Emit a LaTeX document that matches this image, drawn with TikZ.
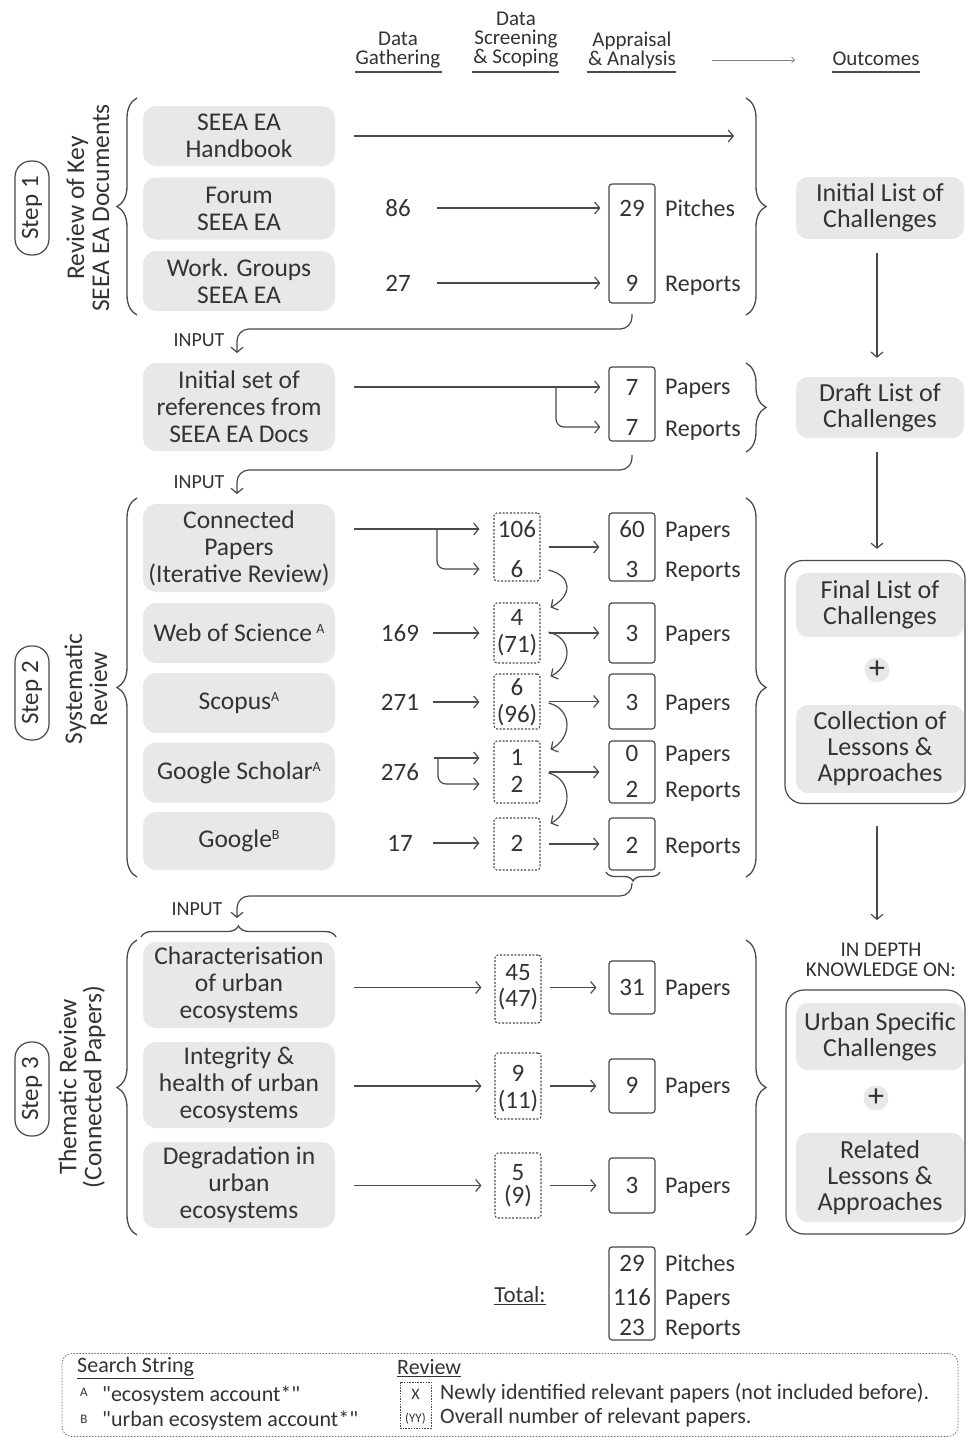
\documentclass[tikz,border=0pt]{standalone}
\usepackage{fontspec}
\setmainfont{Carlito}
\newfontfamily\qf{Carlito}[Ligatures=TeXOff]
\usetikzlibrary{arrows.meta,decorations.pathreplacing,calc}
\definecolor{ink}{HTML}{333333}
\definecolor{linec}{HTML}{4A4A4A}
\definecolor{boxgray}{HTML}{E8E8E8}
\newcommand\sps[1]{\raisebox{8pt}{\fontsize{14}{14}\selectfont #1}}
\begin{document}
\begin{tikzpicture}[x=1pt,y=-1pt,
  every node/.style={text=ink, inner sep=0pt},
  gbox/.style={fill=boxgray, rounded corners=13pt, minimum width=192pt, align=center, font=\fontsize{25.5}{27}\selectfont},
  obox/.style={fill=boxgray, rounded corners=12pt, minimum width=168pt, align=center, font=\fontsize{26}{26}\selectfont},
  sbox/.style={draw=linec, line width=1.2pt, rounded corners=3pt, minimum width=46pt},
  dbox/.style={draw=linec, line width=1.1pt, dash pattern=on 2pt off 1.6pt, rounded corners=3pt, minimum width=46pt},
  num/.style={font=\fontsize{25}{27}\selectfont, text height=16pt, text depth=0pt},
  lbl/.style={font=\fontsize{24}{27}\selectfont, text height=16pt, text depth=0pt, anchor=west},
  hdr/.style={font=\fontsize{21}{19}\selectfont, align=center},
  arr/.style={draw=linec, line width=1.2pt, -{Straight Barb[length=5pt,width=12pt]}},
  ln/.style={draw=linec, line width=1.2pt},
  brc/.style={draw=linec, line width=1.3pt, decorate, decoration={brace, amplitude=#1}},
  brc/.default=20pt,
  stepov/.style={draw=linec, line width=1.2pt, rounded corners=16pt, minimum width=94pt, minimum height=34pt, rotate=90, font=\fontsize{25}{27}\selectfont},
  rlab/.style={rotate=90, align=center, font=\fontsize{25.5}{25}\selectfont},
  plusc/.style={circle, fill=boxgray, minimum size=25pt, font=\fontsize{32}{32}\selectfont},
  outbox/.style={draw=linec, line width=1.2pt, rounded corners=18pt},
  inp/.style={font=\fontsize{20}{20}\selectfont},
  leg/.style={font=\fontsize{22}{24}\selectfont, anchor=west},
]
\fill[white] (0,0) rectangle (966,1438);
\useasboundingbox (0,0) rectangle (966,1438);

% ---------- header ----------
\node[hdr] (hg) at (398,50) {Data\\Gathering};
\node[hdr] (hs) at (516,40) {Data\\Screening\\\& Scoping};
\node[hdr] (ha) at (632,50) {Appraisal\\\& Analysis};
\node[hdr] (ho) at (876,59) {Outcomes};
\draw[ln, line width=1.6pt] (355,72) -- (442,72);
\draw[ln, line width=1.6pt] (472,72) -- (559,72);
\draw[ln, line width=1.6pt] (587,72) -- (676,72);
\draw[ln, line width=1.6pt] (832,72) -- (920,72);
\coordinate (ha1) at (712,60);
\coordinate (ha2) at (795,60);
\draw[draw=linec!70, line width=0.7pt, -{Straight Barb[length=3pt,width=6pt]}] (ha1) -- (ha2);

% ---------- step 1 ----------
\draw[brc] (137,315) -- (137,98);
\node[stepov] (st1) at (32,208) {Step 1};
\node[rlab] (rl1) at (88,208) {Review of Key\\SEEA EA Documents};
\node[gbox, minimum height=60pt] (hb) at (239,136) {SEEA EA\\Handbook};
\node[gbox, minimum height=62pt] (fo) at (239,208.5) {Forum\\SEEA EA};
\node[gbox, minimum height=60pt] (wg) at (239,281) {Work. Groups\\SEEA EA};
\coordinate (hbe) at (734,136);
\draw[arr, shorten <=19pt] (hb.east) -- (hbe);
\node[num, minimum width=78pt] (n86) at (398,208) {86};
\node[num, minimum width=78pt] (n27) at (398,283) {27};
\node[sbox, minimum height=119pt] (s1) at (632,243.5) {};
\node[num] (v29) at (632,208) {29};
\node[num] (v9) at (632,283) {9};
\draw[arr, shorten >=8pt] (n86) -- (s1.west |- n86);
\draw[arr, shorten >=8pt] (n27) -- (s1.west |- n27);
\node[lbl] (lp1) at (665,208) {Pitches};
\node[lbl] (lr1) at (665,283) {Reports};
\draw[brc] (746,98) -- (746,315);
\node[obox, minimum height=62pt] (il) at (880,208) {Initial List of\\Challenges};

% INPUT 1
\coordinate (i1s) at (632,314);
\coordinate (i1m) at (237,329);
\coordinate (i1e) at (237,353);
\draw[arr, rounded corners=12pt] (i1s) |- (i1m) -- (i1e);
\node[inp] (in1) at (199,340) {INPUT};

% ---------- step 1b ----------
\node[gbox, minimum height=88pt] (ir) at (239,407) {Initial set of\\references from\\SEEA EA Docs};
\node[sbox, minimum height=74pt] (s2) at (632,404) {};
\node[num] (v7a) at (632,387) {7};
\node[num] (v7b) at (632,427) {7};
\draw[arr, shorten <=19pt, shorten >=8pt] (ir.east |- v7a) -- (s2.west |- v7a);
\coordinate (b15) at (556,387);
\draw[arr, rounded corners=8pt, shorten >=8pt] (b15) |- (s2.west |- v7b);
\node[lbl] (lp2) at (665,386) {Papers};
\node[lbl] (lr2) at (665,428) {Reports};
\draw[brc] (746,363) -- (746,452);
\node[obox, minimum height=61pt] (dl) at (880,407.5) {Draft List of\\Challenges};
\draw[arr, shorten <=14pt, shorten >=19pt] ([xshift=-3pt]il.south) -- ([xshift=-3pt]dl.north);

% INPUT 2
\coordinate (i2s) at (632,455);
\coordinate (i2m) at (237,470);
\coordinate (i2e) at (237,494);
\draw[arr, rounded corners=12pt] (i2s) |- (i2m) -- (i2e);
\node[inp] (in2) at (199,482) {INPUT};

% ---------- step 2 ----------
\draw[brc] (137,877) -- (137,498);
\node[stepov] (st2) at (32,693) {Step 2};
\node[rlab] (rl2) at (86,689) {Systematic\\Review};
\node[gbox, minimum height=88pt] (cp) at (239,548) {Connected\\Papers\\(Iterative Review)};
\node[gbox, minimum height=60pt] (ws) at (239,633) {Web of Science\,\sps{A}};
\node[gbox, minimum height=60pt] (sc) at (239,703) {Scopus\sps{A}};
\node[gbox, minimum height=60pt] (gs) at (239,772.5) {Google Scholar\sps{A}};
\node[gbox, minimum height=58pt] (go) at (239,841) {Google\sps{B}};

\node[num, minimum width=66pt] (n169) at (400,633) {169};
\node[num, minimum width=66pt] (n271) at (400,702) {271};
\node[num, minimum width=66pt] (n276) at (400,772) {276};
\node[num, minimum width=66pt] (n17) at (400,843) {17};

\node[dbox, minimum height=68pt] (d1) at (517,547) {};
\node[num] (d1a) at (517,529) {106};
\node[num] (d1b) at (517,569) {6};
\node[dbox, minimum height=60pt] (d2) at (517,633) {};
\node[num] (d2a) at (517,617) {4};
\node[num] (d2b) at (517,644) {(71)};
\node[dbox, minimum height=55pt] (d3) at (517,701.5) {};
\node[num] (d3a) at (517,687) {6};
\node[num] (d3b) at (517,714) {(96)};
\node[dbox, minimum height=62pt] (d4) at (517,772) {};
\node[num] (d4a) at (517,757) {1};
\node[num] (d4b) at (517,784) {2};
\node[dbox, minimum height=52pt] (d5) at (517,844) {};
\node[num] (d5a) at (517,843) {2};

\node[sbox, minimum height=68pt] (t1) at (632,547) {};
\node[num] (t1a) at (632,529) {60};
\node[num] (t1b) at (632,569) {3};
\node[sbox, minimum height=60pt] (t2) at (632,633) {};
\node[num] (t2a) at (632,633) {3};
\node[sbox, minimum height=55pt] (t3) at (632,701.5) {};
\node[num] (t3a) at (632,702) {3};
\node[sbox, minimum height=62pt] (t4) at (632,772) {};
\node[num] (t4a) at (632,753) {0};
\node[num] (t4b) at (632,789) {2};
\node[sbox, minimum height=52pt] (t5) at (632,844) {};
\node[num] (t5a) at (632,845) {2};

\node[lbl] at (665,529) {Papers};
\node[lbl] at (665,569) {Reports};
\node[lbl] at (665,633) {Papers};
\node[lbl] at (665,702) {Papers};
\node[lbl] at (665,753) {Papers};
\node[lbl] at (665,789) {Reports};
\node[lbl] at (665,845) {Reports};

\draw[arr, shorten <=19pt, shorten >=14pt] (cp.east |- d1a) -- (d1.west |- d1a);
\coordinate (b2) at (437,529);
\draw[arr, rounded corners=8pt, shorten >=14pt] (b2) |- (d1.west |- d1b);
\draw[arr, shorten >=14pt] (n169) -- (d2.west |- n169);
\draw[arr, shorten >=14pt] (n271) -- (d3.west |- n271);
\draw[arr, shorten >=14pt] (n17) -- (d5.west |- n17);
\coordinate (b3s) at (434,758);
\coordinate (b3b) at (438,758);
\draw[arr, shorten >=14pt] (b3s) -- (d4.west |- b3s);
\draw[arr, rounded corners=8pt, shorten >=14pt] (b3b) |- (d4.west |- d4b);

\draw[arr, shorten <=8pt, shorten >=9pt] (d1.east) -- (t1.west);
\draw[arr, shorten <=8pt, shorten >=9pt] (d2.east) -- (t2.west);
\draw[arr, shorten <=8pt, shorten >=9pt] (d3.east) -- (t3.west);
\draw[arr, shorten <=8pt, shorten >=9pt] (d4.east) -- (t4.west);
\draw[arr, shorten <=8pt, shorten >=9pt] (d5.east) -- (t5.west);

\draw[arr] ($(d1.east)+(8,23)$) .. controls +(24,6) and +(22,-12) .. ($(d2.north east)+(10,5)$);
\draw[arr] ($(d2.east)+(8,-1)$) .. controls +(24,6) and +(22,-12) .. ($(d3.north east)+(10,3)$);
\draw[arr] ($(d3.east)+(8,1.5)$) .. controls +(24,6) and +(22,-12) .. ($(d4.north east)+(10,9)$);
\draw[arr] ($(d4.east)+(8,1)$) .. controls +(24,6) and +(22,-12) .. ($(d5.north east)+(10,6)$);

\draw[brc] (746,498) -- (746,877);
\node[outbox, minimum width=180pt, minimum height=243pt] (ob2) at (875,682) {};
\node[obox, minimum height=64pt] (fl) at (880,605) {Final List of\\Challenges};
\node[plusc] (p1) at (877,670) {+};
\node[obox, minimum height=88pt] (cl) at (880,749) {Collection of\\Lessons \&\\Approaches};
\draw[arr, shorten <=14pt, shorten >=11pt] ([xshift=-3pt]dl.south) -- ([xshift=2pt]ob2.north);
\coordinate (kdt) at (877,920);
\draw[arr, shorten <=22pt] ([xshift=2pt]ob2.south) -- (kdt);

% under brace + INPUT 3
\draw[brc=9pt] (660,872) -- (606,872);
\coordinate (i3s) at (632,883);
\coordinate (i3m) at (237,896);
\coordinate (i3e) at (237,918);
\draw[arr, rounded corners=12pt] (i3s) |- (i3m) -- (i3e);
\node[inp] (in3) at (197,909) {INPUT};
\draw[brc=11pt] (141,937) -- (336,937);

% ---------- step 3 ----------
\draw[brc] (137,1235) -- (137,940);
\node[stepov] (st3) at (32,1089) {Step 3};
\node[rlab] (rl3) at (82,1087) {Thematic Review\\(Connected Papers)};
\node[gbox, minimum height=86pt] (ch) at (239,985) {Characterisation\\of urban\\ecosystems};
\node[gbox, minimum height=86pt] (ih) at (239,1085) {Integrity \&\\health of urban\\ecosystems};
\node[gbox, minimum height=86pt] (dg) at (239,1185) {Degradation in\\urban\\ecosystems};

\node[dbox, minimum height=68pt] (e1) at (518,989) {};
\node[num] (e1a) at (518,972) {45};
\node[num] (e1b) at (518,998) {(47)};
\node[dbox, minimum height=66pt] (e2) at (518,1086) {};
\node[num] (e2a) at (518,1073) {9};
\node[num] (e2b) at (518,1100) {(11)};
\node[dbox, minimum height=65pt] (e3) at (518,1185.5) {};
\node[num] (e3a) at (518,1172) {5};
\node[num] (e3b) at (518,1195) {(9)};

\node[sbox, minimum height=53pt] (u1) at (632,987.5) {};
\node[num] (u1a) at (632,987) {31};
\node[sbox, minimum height=54pt] (u2) at (632,1086) {};
\node[num] (u2a) at (632,1085) {9};
\node[sbox, minimum height=55pt] (u3) at (632,1185.5) {};
\node[num] (u3a) at (632,1185) {3};
\node[lbl] at (665,987) {Papers};
\node[lbl] at (665,1085) {Papers};
\node[lbl] at (665,1185) {Papers};

\draw[arr, shorten <=19pt, shorten >=13pt] (ch.east |- u1) -- (e1.west |- u1);
\draw[arr, shorten <=19pt, shorten >=13pt] (ih.east |- u2) -- (e2.west |- u2);
\draw[arr, shorten <=19pt, shorten >=13pt] (dg.east |- u3) -- (e3.west |- u3);
\draw[arr, shorten <=8pt, shorten >=12pt] (e1.east |- u1) -- (u1.west);
\draw[arr, shorten <=8pt, shorten >=12pt] (e2.east |- u2) -- (u2.west);
\draw[arr, shorten <=8pt, shorten >=12pt] (e3.east |- u3) -- (u3.west);

\draw[brc] (746,940) -- (746,1235);
\node[font=\fontsize{21}{20}\selectfont, align=center] (kd) at (881,960) {IN DEPTH\\KNOWLEDGE ON:};
\node[outbox, minimum width=179pt, minimum height=244pt] (ob3) at (875.5,1112) {};
\node[obox, minimum height=67pt] (us) at (880,1036.5) {Urban Specific\\Challenges};
\node[plusc] (p2) at (876,1098) {+};
\node[obox, minimum height=89pt] (rl) at (880,1177.5) {Related\\Lessons \&\\Approaches};

% ---------- totals ----------
\node[sbox, minimum height=93pt] (tt) at (632,1293.5) {};
\node[num] (tta) at (632,1263) {29};
\node[num] (ttb) at (632,1297) {116};
\node[num] (ttc) at (632,1327) {23};
\node[lbl] at (665,1263) {Pitches};
\node[lbl] at (665,1297) {Papers};
\node[lbl] at (665,1327) {Reports};
\node[font=\fontsize{23}{25}\selectfont] (tot) at (520,1296) {\underline{Total:}};

% ---------- legend ----------
\node[draw=linec!80, line width=0.8pt, dash pattern=on 1.5pt off 1.5pt, rounded corners=10pt, minimum width=896pt, minimum height=83pt] (lg) at (510,1395) {};
\node[leg] (ss) at (77,1368) {\underline{Search String}};
\node[font=\fontsize{13}{14}\selectfont] (la) at (84,1392) {A};
\node[leg] (lat) at (102,1395) {\qf "ecosystem account*"};
\node[font=\fontsize{13}{14}\selectfont] (lb) at (84,1419) {B};
\node[leg] (lbt) at (102,1420) {\qf "urban ecosystem account*"};
\node[leg] (rv) at (397,1368) {\underline{Review}};
\node[draw=linec, line width=0.8pt, dash pattern=on 1.5pt off 1.2pt, minimum width=31pt, minimum height=46pt] (lx) at (415.5,1405) {};
\node[font=\fontsize{16}{16}\selectfont] (lxa) at (415.5,1394) {X};
\node[font=\fontsize{13}{14}\selectfont] (lxb) at (415.5,1419) {(YY)};
\node[leg] (lnx) at (440,1393) {Newly identified relevant papers (not included before).};
\node[leg] (lny) at (440,1418) {Overall number of relevant papers.};
\end{tikzpicture}
\end{document}
